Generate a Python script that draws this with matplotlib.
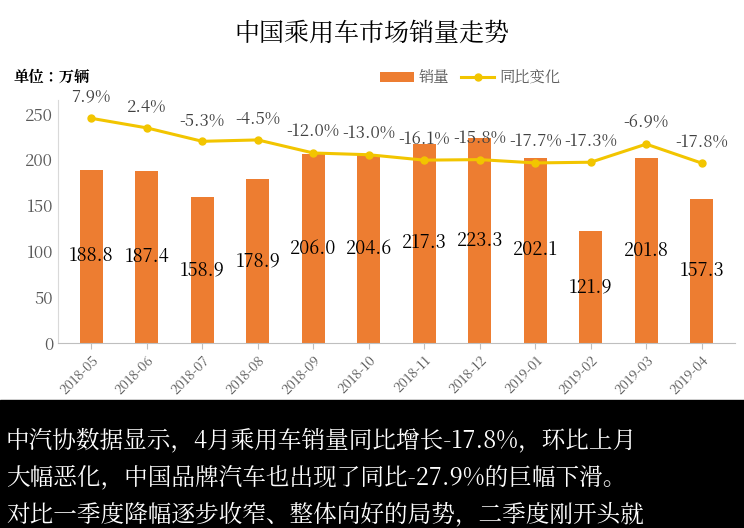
import matplotlib
matplotlib.use("Agg")
import matplotlib.pyplot as plt
from matplotlib import font_manager as fm
from matplotlib.patches import Rectangle

cjk = [f.name for f in fm.fontManager.ttflist if "CJK" in f.name]
if not cjk:
    import glob
    for p in glob.glob("/usr/share/fonts/**/*CJK*", recursive=True):
        try:
            fm.fontManager.addfont(p)
        except Exception:
            pass
    cjk = [f.name for f in fm.fontManager.ttflist if "CJK" in f.name]
pref = [n for n in cjk if "SC" in n] or cjk
plt.rcParams["font.family"] = "sans-serif"
plt.rcParams["font.sans-serif"] = pref[:1] + ["DejaVu Sans"]

months = ["2018-05","2018-06","2018-07","2018-08","2018-09","2018-10",
          "2018-11","2018-12","2019-01","2019-02","2019-03","2019-04"]
sales = [188.8,187.4,158.9,178.9,206.0,204.6,217.3,223.3,202.1,121.9,201.8,157.3]
yoy = [7.9,2.4,-5.3,-4.5,-12.0,-13.0,-16.1,-15.8,-17.7,-17.3,-6.9,-17.8]
yticks = [0,50,100,150,200,250]
caption = ["中汽协数据显示，4月乘用车销量同比增长-17.8%，环比上月",
           "大幅恶化，中国品牌汽车也出现了同比-27.9%的巨幅下滑。",
           "对比一季度降幅逐步收窄、整体向好的局势，二季度刚开头就"]

fig = plt.figure(figsize=(7.44,5.28), dpi=100)
fig.patch.set_facecolor("white")
ax = fig.add_axes([58/744, 1-343/528, (735-58)/744, (343-100)/528])
x = list(range(len(months)))
ax.bar(x, sales, width=0.41, color="#ED7D31", label="销量", zorder=2)
ax.set_ylim(0, 265)
ax.set_xlim(-0.6, len(months)-0.4)
ax.set_yticks(yticks)
ax.tick_params(axis="y", length=0, labelsize=12, colors="#595959")
ax.tick_params(axis="x", length=4, color="#bfbfbf", labelsize=9.5, labelcolor="#595959")
ax.set_xticks(x)
ax.set_xticklabels(months, rotation=45, ha="right", rotation_mode="anchor")
for s in ["top","right"]:
    ax.spines[s].set_visible(False)
ax.spines["left"].set_color("#d9d9d9")
ax.spines["bottom"].set_color("#bfbfbf")
for i, v in enumerate(sales):
    ax.text(i, v/2, f"{v:.1f}", ha="center", va="center", fontsize=13, color="black", zorder=4)

ax2 = ax.twinx()
ax2.set_ylim(-121, 18.4)
ax2.axis("off")
ax2.plot(x, yoy, color="#F2C500", lw=2.2, marker="o", ms=5, label="同比变化", zorder=3)
for i, v in enumerate(yoy):
    ax2.annotate(f"{v:.1f}%", (i, v), xytext=(0, 9), textcoords="offset points",
                 ha="center", va="bottom", fontsize=12, color="#404040")

h1, l1 = ax.get_legend_handles_labels()
h2, l2 = ax2.get_legend_handles_labels()
fig.legend(h1+h2, l1+l2, loc="center", bbox_to_anchor=(470/744, 1-78/528), ncol=2,
           frameon=False, fontsize=11, handlelength=2.2, columnspacing=0.8, handletextpad=0.3,
           labelcolor="#595959")

fig.text(0.5, 1-34/528, "中国乘用车市场销量走势", ha="center", va="center", fontsize=18, color="black")
fig.text(14/744, 1-77/528, "单位：万辆", ha="left", va="center", fontsize=11, color="black", weight="bold")

fig.add_artist(Rectangle((0,0), 1, 128/528, transform=fig.transFigure, color="black", zorder=0))
for k, line in enumerate(caption):
    fig.text(6/744, 1-(440+k*37)/528, line, ha="left", va="center", fontsize=17, color="white")

fig.savefig("out.png", dpi=100)
